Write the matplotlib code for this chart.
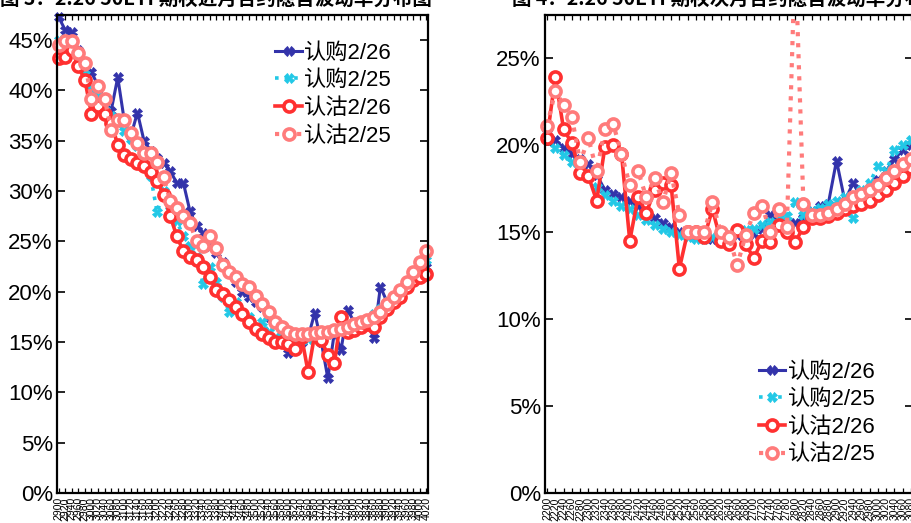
import matplotlib
matplotlib.use("Agg")
import matplotlib.pyplot as plt
import numpy as np
from matplotlib.ticker import PercentFormatter

plt.rcParams['font.family'] = ['Liberation Sans', 'Noto Sans CJK SC', 'DejaVu Sans']

# 左图：行权价与隐含波动率(%)
strikes_left = ['2900', '2920', '2940', '2960', '2980', '3000', '3020', '3040', '3060', '3080',
                '3100', '3120', '3140', '3160', '3180', '3200', '3220', '3240', '3260', '3280',
                '3300', '3320', '3340', '3360', '3380', '3400', '3420', '3440', '3460', '3480',
                '3500', '3520', '3540', '3560', '3580', '3600', '3620', '3640', '3660', '3680',
                '3700', '3720', '3740', '3760', '3780', '3800', '3820', '3840', '3860', '3880',
                '3900', '3920', '3940', '3960', '3980', '4000', '4020']
call_0226_left = [47.3, 46.0, 45.8, 44.0, 42.8, 41.8, 40.5, 39.0, 38.0, 41.3,
                  37.0, 35.5, 37.8, 35.0, 34.0, 33.3, 32.8, 32.0, 30.8, 30.8,
                  28.0, 26.5, 25.8, 24.5, 23.8, 23.0, 22.0, 21.0, 20.0, 19.5,
                  19.0, 18.5, 17.5, 16.8, 16.0, 13.9, 15.5, 15.0, 15.5, 17.9,
                  15.0, 11.4, 16.0, 14.2, 18.2, 17.0, 16.5, 17.0, 15.4, 20.5,
                  19.0, 19.5, 20.0, 21.0, 21.5, 22.0, 22.5]
call_0225_left = [45.0, 44.5, 44.5, 43.5, 42.0, 40.0, 39.5, 38.5, 37.5, 36.8,
                  36.0, 35.2, 34.5, 33.8, 31.5, 27.9, 30.0, 28.5, 27.0, 25.5,
                  24.5, 23.5, 20.8, 22.5, 21.0, 19.5, 18.0, 19.0, 17.8, 17.5,
                  16.4, 17.0, 16.0, 15.4, 15.5, 15.2, 15.0, 15.2, 15.3, 15.5,
                  15.5, 15.8, 16.0, 16.2, 16.5, 16.8, 17.0, 17.3, 17.8, 18.3,
                  19.0, 19.5, 20.3, 21.0, 21.8, 22.5, 23.2]
put_0226_left = [43.2, 43.3, 44.0, 42.4, 41.0, 37.7, 38.5, 37.7, 36.8, 34.6,
                 33.6, 33.2, 32.8, 32.5, 31.9, 31.0, 29.6, 27.5, 25.5, 24.0,
                 23.5, 23.2, 22.5, 21.5, 20.2, 19.8, 19.2, 18.5, 17.8, 17.0,
                 16.3, 15.8, 15.4, 15.0, 15.0, 14.8, 14.3, 15.5, 12.0, 15.8,
                 15.2, 13.7, 12.9, 17.5, 16.0, 16.2, 16.5, 16.8, 16.5, 17.5,
                 18.3, 19.0, 19.5, 20.5, 21.2, 21.5, 21.8]
put_0225_left = [44.5, 44.9, 44.9, 43.7, 42.7, 39.2, 40.4, 39.2, 36.1, 37.1,
                 37.1, 35.8, 34.8, 33.8, 33.8, 32.9, 31.4, 29.0, 28.3, 27.5,
                 26.8, 25.0, 24.5, 25.5, 24.3, 22.7, 22.0, 21.5, 20.8, 20.5,
                 19.6, 18.8, 18.0, 17.0, 16.5, 16.0, 15.8, 15.8, 15.8, 15.9,
                 16.0, 16.0, 16.2, 16.3, 16.5, 16.8, 17.0, 17.2, 17.5, 18.0,
                 18.8, 19.5, 20.2, 21.0, 22.0, 23.0, 24.0]

# 右图
strikes_right = ['2200', '2220', '2240', '2260', '2280', '2300', '2320', '2340', '2360', '2380',
                 '2400', '2420', '2440', '2460', '2480', '2500', '2520', '2540', '2560', '2580',
                 '2600', '2620', '2640', '2660', '2680', '2700', '2720', '2740', '2760', '2780',
                 '2800', '2820', '2840', '2860', '2880', '2900', '2920', '2940', '2960', '2980',
                 '3000', '3020', '3040', '3060', '3080']
call_0226_right = [20.7, 20.3, 19.8, 19.5, 19.2, 18.9, 18.3, 17.4, 17.2, 17.0,
                   16.8, 16.5, 16.1, 15.8, 15.5, 15.3, 15.0, 14.8, 14.8, 14.7,
                   14.6, 14.5, 14.6, 14.8, 15.0, 14.9, 15.2, 16.0, 15.6, 15.4,
                   15.5, 15.8, 16.2, 16.5, 16.6, 19.1, 16.8, 17.8, 17.0, 17.2,
                   18.0, 18.5, 19.2, 19.7, 20.0]
call_0225_right = [20.3, 19.8, 19.4, 19.0, 18.6, 18.2, 17.6, 17.1, 16.8, 16.5,
                   16.3, 16.0, 15.7, 15.4, 15.2, 15.0, 14.8, 14.7, 14.6, 14.6,
                   14.7, 14.8, 14.9, 15.0, 15.1, 15.2, 15.4, 15.6, 15.8, 15.9,
                   16.7, 16.0, 16.2, 16.4, 16.6, 16.8, 17.0, 15.8, 17.4, 17.8,
                   18.8, 18.5, 19.7, 20.0, 20.3]
put_0226_right = [20.4, 23.9, 20.9, 20.1, 18.4, 18.2, 16.8, 19.9, 20.0, 19.5,
                  14.5, 17.0, 16.1, 17.4, 17.8, 17.7, 12.9, 15.0, 15.0, 14.7,
                  16.3, 14.5, 14.3, 15.1, 14.3, 13.5, 14.5, 14.4, 15.4, 15.0,
                  14.4, 15.3, 15.8, 15.8, 15.9, 16.1, 16.3, 16.5, 16.6, 16.8,
                  17.1, 17.4, 17.8, 18.2, 18.7]
put_0225_right = [21.1, 23.1, 22.3, 21.6, 19.0, 20.4, 18.5, 20.9, 21.2, 19.5,
                  17.7, 18.5, 17.0, 18.1, 16.7, 18.4, 16.0, 15.0, 15.0, 15.0,
                  16.7, 15.0, 14.7, 13.1, 14.8, 16.1, 16.5, 15.0, 16.3, 15.3,
                  31.0, 16.6, 16.0, 16.0, 16.1, 16.3, 16.6, 17.0, 17.2, 17.4,
                  17.7, 18.1, 18.5, 18.9, 19.2]

BLUE = '#3333aa'
CYAN = '#22c8e6'
RED = '#ff3030'
PINK = '#ff7b7b'


def draw_series(ax, y, color, ls, lw, marker, ms, mew, mfc, label):
    x = np.arange(len(y))
    # la linea se recorta al eje, los marcadores no
    ax.plot(x, y, color=color, ls=ls, lw=lw)
    ax.plot(x, y, ls='none', marker=marker, ms=ms, mew=mew, mec=color, mfc=mfc, clip_on=False)
    ax.plot([], [], color=color, ls=ls, lw=lw, marker=marker, ms=ms, mew=mew,
            mec=color, mfc=mfc, label=label)


def draw_panel(ax, strikes, c26, c25, p26, p25, ytop, yticks, legend_loc, anchor):
    draw_series(ax, c26, BLUE, '-', 2.2, 'X', 7, 0.6, BLUE, '认购2/26')
    draw_series(ax, c25, CYAN, ':', 2.6, 'X', 6.5, 0.6, CYAN, '认购2/25')
    draw_series(ax, p26, RED, '-', 2.6, 'o', 8, 2.6, 'white', '认沽2/26')
    draw_series(ax, p25, PINK, ':', 3.0, 'o', 8, 2.6, 'white', '认沽2/25')
    ax.set_xlim(-0.25, len(strikes) - 0.75)
    ax.set_ylim(0, ytop)
    ax.set_yticks(yticks)
    ax.set_xticks(np.arange(len(strikes)))
    ax.set_xticklabels(strikes, rotation=90, fontsize=7.5)
    ax.yaxis.set_major_formatter(PercentFormatter(xmax=100, decimals=0))
    ax.tick_params(axis='y', direction='in', left=True, right=True, length=6,
                   width=1.2, labelsize=16, pad=3)
    ax.tick_params(axis='x', direction='in', top=True, bottom=True, length=3.5,
                   width=0.9, pad=3)
    for sp in ax.spines.values():
        sp.set_linewidth(1.6)
    ax.legend(loc=legend_loc, bbox_to_anchor=anchor, frameon=False, fontsize=16,
              handlelength=1.2, handletextpad=0.1, labelspacing=0.3, borderaxespad=0.3)


fig = plt.figure(figsize=(9.12, 5.23), dpi=100)
ax1 = fig.add_axes([57 / 912, 30 / 523, 371 / 912, 478 / 523])
ax2 = fig.add_axes([545 / 912, 30 / 523, 368 / 912, 478 / 523])

draw_panel(ax1, strikes_left, call_0226_left, call_0225_left,
           put_0226_left, put_0225_left, 47.5, [0, 5, 10, 15, 20, 25, 30, 35, 40, 45],
           'upper right', (0.945, 0.975))
draw_panel(ax2, strikes_right, call_0226_right, call_0225_right,
           put_0226_right, put_0225_right, 27.47, [0, 5, 10, 15, 20, 25],
           'lower right', (0.94, 0.025))

# titulos recortados en el borde superior
fig.text(0.0, 1 - 5 / 523, '图 3：2.26 50ETF期权近月合约隐含波动率分布图',
         fontsize=14, fontweight='bold', va='baseline', ha='left',
         family=['Noto Sans CJK SC', 'DejaVu Sans'])
fig.text(512 / 912, 1 - 5 / 523, '图 4：2.26 50ETF期权次月合约隐含波动率分布图',
         fontsize=14, fontweight='bold', va='baseline', ha='left',
         family=['Noto Sans CJK SC', 'DejaVu Sans'])

fig.savefig('out.png', dpi=100)
